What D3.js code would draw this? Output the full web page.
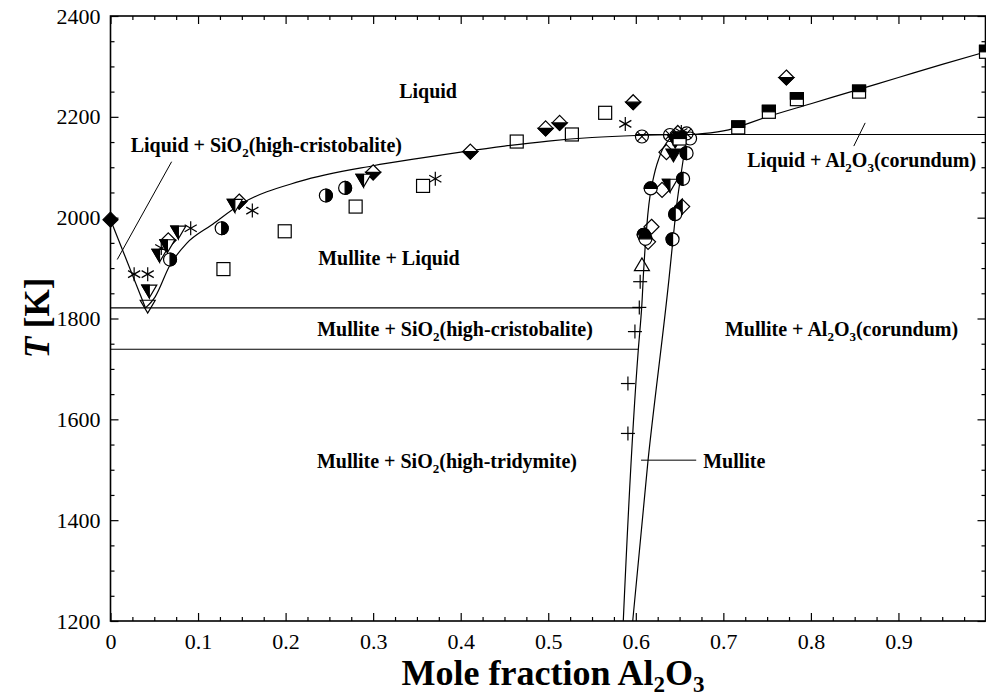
<!DOCTYPE html>
<html><head><meta charset="utf-8">
<script src="https://cdn.jsdelivr.net/npm/d3@7"></script>
<style>
body{margin:0;background:#fff;}
svg{display:block;font-family:"Liberation Serif","Times New Roman",serif;}
svg text{font-family:"Liberation Serif","Times New Roman",serif;}
</style></head>
<body><svg id="c" width="986" height="696"></svg>
<script>
// ---------- tick labels ----------
const xTicks = [0,0.1,0.2,0.3,0.4,0.5,0.6,0.7,0.8,0.9];
const xTickLabels = ["0","0.1","0.2","0.3","0.4","0.5","0.6","0.7","0.8","0.9"];
const yTicks = [1200,1400,1600,1800,2000,2200,2400];
const yTickLabels = ["1200","1400","1600","1800","2000","2200","2400"];

// ---------- phase boundaries (x = mole fraction Al2O3, T in K) ----------
const liquidusSiO2 = [[0,1996],[0.040,1821]];
const liquidusMullite = [[0.040,1821],[0.051,1843],[0.068,1906],[0.087,1949],[0.115,1985],[0.151,2029],[0.216,2072],[0.30,2103],[0.35,2117],[0.40,2130],[0.45,2142],[0.50,2152],[0.55,2159],[0.60,2163],[0.66,2165]];
const liquidusCorundum = [[0.665,2165],[0.70,2172],[0.75,2200],[0.80,2226],[0.85,2252],[0.90,2278],[0.95,2304],[1.0,2329]];
const peritecticLine = [[0.60,2165],[1.0,2165]];
const eutecticLine = [[0,1821],[0.6067,1821]];
const transitionLine = [[0,1739],[0.6029,1739]];
const mulliteLeft = [[0.5857,1200],[0.6029,1739],[0.6067,1821],[0.609,1896],[0.6115,1960],[0.618,2061],[0.6257,2114],[0.6334,2144],[0.6425,2161],[0.65,2165]];
const mulliteRight = [[0.5965,1200],[0.614,1519],[0.638,1880],[0.6428,1962],[0.647,2029],[0.6524,2095],[0.658,2160]];

// ---------- leader lines ----------
const leaderCristobalite = [[0.0698,2111],[0.0077,1917]];
const leaderCorundum = [[0.862,2188],[0.849,2142]];
const leaderMullite = [[0.606,1519],[0.669,1519]];

// ---------- experimental points ----------
const filledDiamond = [[0,1996]];
const halfDiamond = [[0.066,1955],[0.147,2032],[0.300,2090],[0.411,2131],[0.497,2177],[0.513,2188],[0.597,2229],[0.772,2278]];
const halfDiamondLeft = [[0.653,2022]];
const openDiamond = [[0.648,2168],[0.635,2130],[0.630,2055],[0.618,1982],[0.614,1952]];
const halfTriDown = [[0.0443,1855],[0.056,1926],[0.065,1945],[0.0775,1972],[0.142,2025],[0.289,2075],[0.639,2065]];
const filledTriDown = [[0.643,2125],[0.645,2152]];
const openTriDown = [[0.0425,1825]];
const openTriUp = [[0.607,1906]];
const asterisk = [[0.027,1888],[0.0425,1888],[0.058,1940],[0.0916,1979],[0.162,2014],[0.371,2077],[0.588,2186],[0.652,2170]];
const halfCircleRight = [[0.068,1917],[0.127,1979],[0.246,2044],[0.268,2059]];
const halfCircleTop = [[0.617,2058],[0.609,1966],[0.611,1958]];
const halfCircleLeft = [[0.654,2077],[0.645,2007],[0.642,1957],[0.658,2128]];
const crossCircle = [[0.607,2161],[0.639,2164],[0.658,2167]];
const openCircle = [[0.662,2157]];
const openSquare = [[0.129,1898],[0.199,1973],[0.280,2022],[0.357,2063],[0.464,2151],[0.527,2165],[0.565,2208]];
const halfSquareTop = [[0.650,2157],[0.717,2179],[0.752,2210],[0.784,2235],[0.855,2250],[1.0,2329]];
const plusMark = [[0.605,1873],[0.604,1822],[0.599,1774],[0.591,1671],[0.591,1572]];

// ---------- region labels ----------
const regionLabels = [
  {x:0.3627, T:2251, parts:[["Liquid"]], anchor:"middle"},
  {x:0.178, T:2144, parts:[["Liquid + SiO"],["2","sub"],["(high-cristobalite)"]], anchor:"middle"},
  {x:0.318, T:1920, parts:[["Mullite + Liquid"]], anchor:"middle"},
  {x:0.3935, T:1779, parts:[["Mullite + SiO"],["2","sub"],["(high-cristobalite)"]], anchor:"middle"},
  {x:0.3843, T:1517, parts:[["Mullite + SiO"],["2","sub"],["(high-tridymite)"]], anchor:"middle"},
  {x:0.677, T:1517, parts:[["Mullite"]], anchor:"start"},
  {x:0.835, T:1779, parts:[["Mullite + Al"],["2","sub"],["O"],["3","sub"],["(corundum)"]], anchor:"middle"},
  {x:0.858, T:2114, parts:[["Liquid + Al"],["2","sub"],["O"],["3","sub"],["(corundum)"]], anchor:"middle"}
];

const FONT = '"Liberation Serif","Times New Roman",serif';
const svg = d3.select("#c");
const x = d3.scaleLinear().domain([0,1]).range([110.5,986]);
const y = d3.scaleLinear().domain([1200,2400]).range([621,16]);
const L = 110.5, R = 985.5, B = 621, Tp = 16;

// frame
svg.append("rect").attr("x",L).attr("y",Tp).attr("width",R-L).attr("height",B-Tp)
  .attr("fill","none").attr("stroke","#000").attr("stroke-width",1.6);

const xMinor = d3.range(0,1.0001,0.025).filter(v=>Math.abs(v*10-Math.round(v*10))>1e-6);
const yMinor = d3.range(1200,2401,50).filter(v=>v%200!==0);
const xMajorAll = xTicks.concat([1]);

function tickAxis(g){ g.attr("font-family",null).attr("font-size",null);
  g.select(".domain").remove(); g.selectAll("line").attr("stroke","#000").attr("stroke-width",1.2); }
function styleLabels(g){ g.selectAll("text").style("font-family",FONT).style("font-size","22px").attr("fill","#000"); }

// bottom
svg.append("g").attr("transform",`translate(0,${B})`)
  .call(d3.axisBottom(x).tickValues(xTicks).tickSize(-8).tickPadding(12).tickFormat((d,i)=>xTickLabels[i]))
  .call(tickAxis).call(styleLabels);
svg.append("g").attr("transform",`translate(0,${B})`)
  .call(d3.axisBottom(x).tickValues(xMinor).tickSize(-4).tickFormat("")).call(tickAxis);
// top
svg.append("g").attr("transform",`translate(0,${Tp})`)
  .call(d3.axisTop(x).tickValues(xMajorAll).tickSize(-8).tickFormat("")).call(tickAxis);
svg.append("g").attr("transform",`translate(0,${Tp})`)
  .call(d3.axisTop(x).tickValues(xMinor).tickSize(-4).tickFormat("")).call(tickAxis);
// left
svg.append("g").attr("transform",`translate(${L},0)`)
  .call(d3.axisLeft(y).tickValues(yTicks).tickSize(-8).tickPadding(10).tickFormat((d,i)=>yTickLabels[i]))
  .call(tickAxis).call(styleLabels);
svg.append("g").attr("transform",`translate(${L},0)`)
  .call(d3.axisLeft(y).tickValues(yMinor).tickSize(-4).tickFormat("")).call(tickAxis);
// right
svg.append("g").attr("transform",`translate(${R},0)`)
  .call(d3.axisRight(y).tickValues(yTicks).tickSize(-8).tickFormat("")).call(tickAxis);
svg.append("g").attr("transform",`translate(${R},0)`)
  .call(d3.axisRight(y).tickValues(yMinor).tickSize(-4).tickFormat("")).call(tickAxis);

// axis titles
const xt = svg.append("text").attr("x",553).attr("y",685).attr("text-anchor","middle")
  .attr("font-weight","bold").attr("font-size",36).attr("fill","#000");
xt.append("tspan").text("Mole fraction Al");
xt.append("tspan").attr("font-size",23).attr("dy",7).text("2");
xt.append("tspan").attr("dy",-7).text("O");
xt.append("tspan").attr("font-size",23).attr("dy",7).text("3");

const yt = svg.append("text").attr("transform","translate(49,318) rotate(-90)").attr("text-anchor","middle")
  .attr("font-weight","bold").attr("font-size",35).attr("fill","#000");
yt.append("tspan").attr("font-style","italic").text("T");
yt.append("tspan").text(" [K]");

// lines
const plot = svg.append("g");
const lineX = d3.line().x(d=>x(d[0])).y(d=>y(d[1])).curve(d3.curveMonotoneX);
const lineY = d3.line().x(d=>x(d[0])).y(d=>y(d[1])).curve(d3.curveMonotoneY);
const lineL = d3.line().x(d=>x(d[0])).y(d=>y(d[1]));
function drawPath(data, gen, w){ plot.append("path").datum(data).attr("d",gen).attr("fill","none").attr("stroke","#000").attr("stroke-width",w||1.2); }
drawPath(liquidusSiO2, lineL);
drawPath(liquidusMullite, lineX);
drawPath(liquidusCorundum, lineX);
drawPath(peritecticLine, lineL);
drawPath(eutecticLine, lineL);
drawPath(transitionLine, lineL);
drawPath(mulliteLeft, lineY);
drawPath(mulliteRight, lineY);
drawPath(leaderCristobalite, lineL, 1);
drawPath(leaderCorundum, lineL, 1);
drawPath(leaderMullite, lineL, 1);

// region labels
regionLabels.forEach(lb=>{
  const t = svg.append("text").attr("x",x(lb.x)).attr("y",y(lb.T)).attr("dy","0.35em")
    .attr("text-anchor",lb.anchor).attr("font-weight","bold").attr("font-size",20).attr("fill","#000");
  let sub=false;
  lb.parts.forEach(p=>{
    const ts = t.append("tspan").text(p[0]);
    if(p[1]==="sub"){ ts.attr("font-size",13).attr("dy",5); sub=true; }
    else if(sub){ ts.attr("dy",-5); sub=false; }
  });
});

// markers
const mk = svg.append("g").attr("stroke","#000").attr("stroke-width",1.2);
function place(data){ return mk.selectAll(null).data(data).enter().append("g").attr("transform",d=>`translate(${x(d[0])},${y(d[1])})`); }
const D=7.5, S=6.5, C=6.5, TR=7.5;
const diamondP = `M0,${-D}L${D},0L0,${D}L${-D},0Z`;
const triDownP = `M${-TR},${-TR*0.75}L${TR},${-TR*0.75}L0,${TR*0.95}Z`;
const triUpP = `M${-TR},${TR*0.75}L${TR},${TR*0.75}L0,${-TR*0.95}Z`;

place(filledDiamond).append("path").attr("d",diamondP).attr("fill","#000");
let g;
g = place(halfDiamond); g.append("path").attr("d",diamondP).attr("fill","#fff");
g.append("path").attr("d",`M${-D},0L${D},0L0,${D}Z`).attr("fill","#000");
g = place(halfDiamondLeft); g.append("path").attr("d",diamondP).attr("fill","#fff");
g.append("path").attr("d",`M0,${-D}L0,${D}L${-D},0Z`).attr("fill","#000");
place(openDiamond).append("path").attr("d",diamondP).attr("fill","none");
g = place(halfTriDown); g.append("path").attr("d",triDownP).attr("fill","#fff");
g.append("path").attr("d",`M${-TR},${-TR*0.75}L0,${-TR*0.75}L0,${TR*0.95}Z`).attr("fill","#000");
place(filledTriDown).append("path").attr("d",triDownP).attr("fill","#000");
place(openTriDown).append("path").attr("d",triDownP).attr("fill","none");
place(openTriUp).append("path").attr("d",triUpP).attr("fill","none");
g = place(asterisk);
[90,30,150].forEach(a=>{ const r=7, c=Math.cos(a*Math.PI/180)*r, s=Math.sin(a*Math.PI/180)*r;
  g.append("line").attr("x1",-c).attr("y1",-s).attr("x2",c).attr("y2",s); });
g = place(halfCircleRight); g.append("circle").attr("r",C).attr("fill","#fff");
g.append("path").attr("d",`M0,${-C}A${C},${C} 0 0 1 0,${C}Z`).attr("fill","#000");
g = place(halfCircleLeft); g.append("circle").attr("r",C).attr("fill","#fff");
g.append("path").attr("d",`M0,${-C}A${C},${C} 0 0 0 0,${C}Z`).attr("fill","#000");
g = place(halfCircleTop); g.append("circle").attr("r",C).attr("fill","#fff");
g.append("path").attr("d",`M${-C},0A${C},${C} 0 0 1 ${C},0Z`).attr("fill","#000");
g = place(crossCircle); g.append("circle").attr("r",C).attr("fill","none");
const k=C*0.707;
g.append("line").attr("x1",-k).attr("y1",-k).attr("x2",k).attr("y2",k);
g.append("line").attr("x1",-k).attr("y1",k).attr("x2",k).attr("y2",-k);
place(openCircle).append("circle").attr("r",C).attr("fill","none");
place(openSquare).append("rect").attr("x",-S).attr("y",-S).attr("width",2*S).attr("height",2*S).attr("fill","none");
g = place(halfSquareTop); g.append("rect").attr("x",-S).attr("y",-S).attr("width",2*S).attr("height",2*S).attr("fill","#fff");
g.append("rect").attr("x",-S).attr("y",-S).attr("width",2*S).attr("height",S).attr("fill","#000");
g = place(plusMark);
g.append("line").attr("x1",-7).attr("x2",7).attr("y1",0).attr("y2",0);
g.append("line").attr("y1",-7).attr("y2",7).attr("x1",0).attr("x2",0);
</script></body></html>
